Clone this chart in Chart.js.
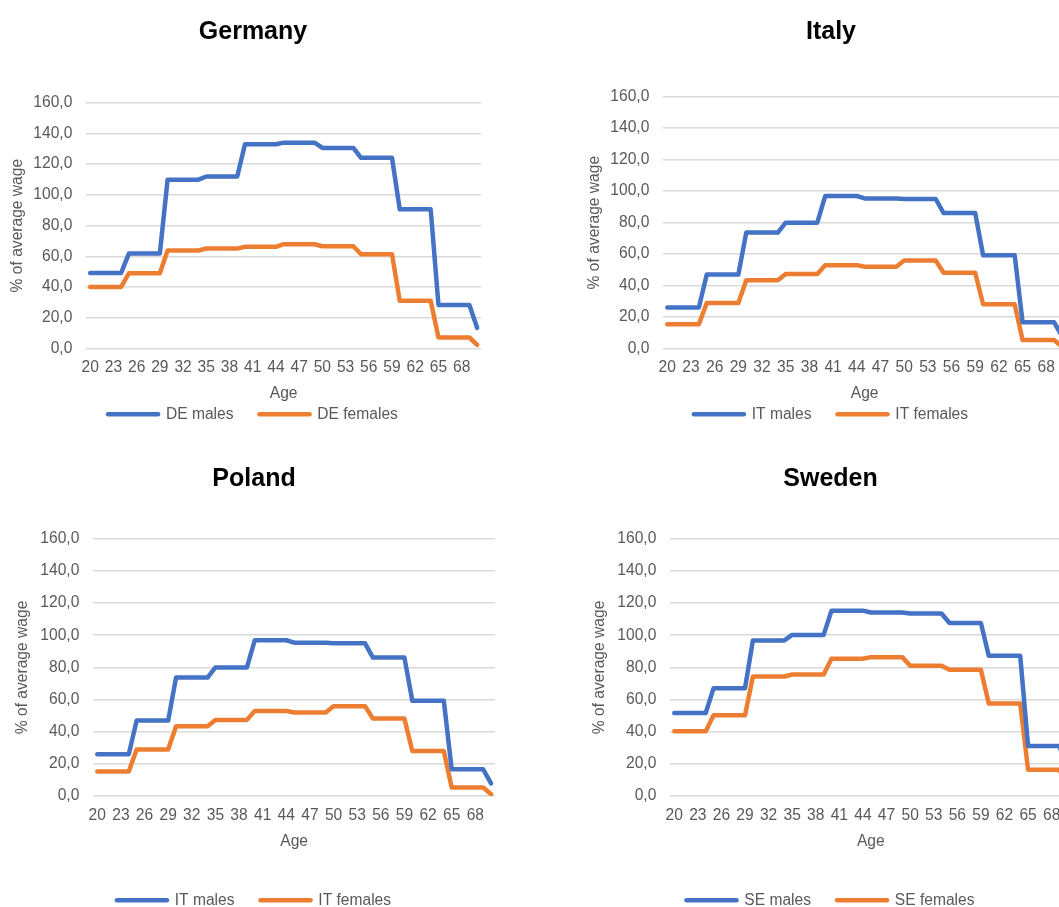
<!DOCTYPE html>
<html>
<head>
<meta charset="utf-8">
<script src="https://cdn.jsdelivr.net/npm/chart.js@4"></script>
<style>
html, body { margin: 0; padding: 0; background: #fff; overflow: hidden; }
#wrap { position: relative; width: 1059px; height: 907px; overflow: hidden; }
canvas { position: absolute; }
</style>
</head>
<body>
<div id="wrap">
  <canvas id="chartDE" width="506" height="432" style="left:0px;top:0px"></canvas>
  <canvas id="chartIT" width="508" height="432" style="left:577px;top:0px"></canvas>
  <canvas id="chartPL" width="498" height="468" style="left:5px;top:450px"></canvas>
  <canvas id="chartSE" width="497" height="468" style="left:582px;top:450px"></canvas>
</div>
<script>
var ages = [20,21,22,23,24,25,26,27,28,29,30,31,32,33,34,35,36,37,38,39,40,41,42,43,44,45,46,47,48,49,50,51,52,53,54,55,56,57,58,59,60,61,62,63,64,65,66,67,68,69,70];

var deMales   = [49.2,49.2,49.2,49.2,49.2,61.8,61.8,61.8,61.8,61.8,109.9,109.9,109.9,109.9,109.9,112.0,112.0,112.0,112.0,112.0,133.0,133.0,133.0,133.0,133.0,134.0,134.0,134.0,134.0,134.0,130.6,130.6,130.6,130.6,130.6,124.1,124.1,124.1,124.1,124.1,90.6,90.6,90.6,90.6,90.6,28.4,28.4,28.4,28.4,28.4,13.5];
var deFemales = [40.1,40.1,40.1,40.1,40.1,49.0,49.0,49.0,49.0,49.0,63.8,63.8,63.8,63.8,63.8,65.1,65.1,65.1,65.1,65.1,66.2,66.2,66.2,66.2,66.2,67.9,67.9,67.9,67.9,67.9,66.6,66.6,66.6,66.6,66.6,61.4,61.4,61.4,61.4,61.4,31.1,31.1,31.1,31.1,31.1,7.2,7.2,7.2,7.2,7.2,2.4];

var itMales   = [26.1,26.1,26.1,26.1,26.1,47.0,47.0,47.0,47.0,47.0,73.7,73.7,73.7,73.7,73.7,80.0,80.0,80.0,80.0,80.0,96.9,96.9,96.9,96.9,96.9,95.4,95.4,95.4,95.4,95.4,95.0,95.0,95.0,95.0,95.0,86.1,86.1,86.1,86.1,86.1,59.3,59.3,59.3,59.3,59.3,16.7,16.7,16.7,16.7,16.7,7.9];
var itFemales = [15.4,15.4,15.4,15.4,15.4,29.0,29.0,29.0,29.0,29.0,43.4,43.4,43.4,43.4,43.4,47.4,47.4,47.4,47.4,47.4,53.0,53.0,53.0,53.0,53.0,52.0,52.0,52.0,52.0,52.0,55.9,55.9,55.9,55.9,55.9,48.2,48.2,48.2,48.2,48.2,28.1,28.1,28.1,28.1,28.1,5.4,5.4,5.4,5.4,5.4,1.2];

// the Poland panel shows the same series (labelled IT) as Italy
var plMales   = [26.1,26.1,26.1,26.1,26.1,47.0,47.0,47.0,47.0,47.0,73.7,73.7,73.7,73.7,73.7,80.0,80.0,80.0,80.0,80.0,96.9,96.9,96.9,96.9,96.9,95.4,95.4,95.4,95.4,95.4,95.0,95.0,95.0,95.0,95.0,86.1,86.1,86.1,86.1,86.1,59.3,59.3,59.3,59.3,59.3,16.7,16.7,16.7,16.7,16.7,7.9];
var plFemales = [15.4,15.4,15.4,15.4,15.4,29.0,29.0,29.0,29.0,29.0,43.4,43.4,43.4,43.4,43.4,47.4,47.4,47.4,47.4,47.4,53.0,53.0,53.0,53.0,53.0,52.0,52.0,52.0,52.0,52.0,55.9,55.9,55.9,55.9,55.9,48.2,48.2,48.2,48.2,48.2,28.1,28.1,28.1,28.1,28.1,5.4,5.4,5.4,5.4,5.4,1.2];

var seMales   = [51.7,51.7,51.7,51.7,51.7,67.1,67.1,67.1,67.1,67.1,96.8,96.8,96.8,96.8,96.8,100.2,100.2,100.2,100.2,100.2,115.3,115.3,115.3,115.3,115.3,114.1,114.1,114.1,114.1,114.1,113.5,113.5,113.5,113.5,113.5,107.6,107.6,107.6,107.6,107.6,87.3,87.3,87.3,87.3,87.3,31.2,31.2,31.2,31.2,31.2,15.0];
var seFemales = [40.3,40.3,40.3,40.3,40.3,50.3,50.3,50.3,50.3,50.3,74.4,74.4,74.4,74.4,74.4,75.6,75.6,75.6,75.6,75.6,85.4,85.4,85.4,85.4,85.4,86.4,86.4,86.4,86.4,86.4,81.0,81.0,81.0,81.0,81.0,78.5,78.5,78.5,78.5,78.5,57.6,57.6,57.6,57.6,57.6,16.4,16.4,16.4,16.4,16.4,4.0];

var blue = "#4472C4";
var orange = "#ED7D31";
var grey = "#595959";
var fam = "'Liberation Sans', Arial, sans-serif";

function makeChart(id, title, males, females, names, lay) {
  return new Chart(id, {
    type: "line",
    data: {
      labels: ages,
      datasets: [
        { label: names[0], data: males, borderColor: blue, backgroundColor: blue },
        { label: names[1], data: females, borderColor: orange, backgroundColor: orange }
      ]
    },
    options: {
      responsive: false,
      animation: false,
      devicePixelRatio: 1,
      layout: { padding: 0 },
      elements: {
        line: { borderWidth: 4.5, tension: 0, borderJoinStyle: "round", borderCapStyle: "round", fill: false },
        point: { radius: 0, hoverRadius: 0 }
      },
      plugins: {
        tooltip: { enabled: false },
        title: {
          display: true,
          text: title,
          color: "#000",
          font: { family: fam, size: 25, weight: "bold" },
          padding: lay.titlePad
        },
        legend: {
          position: "bottom",
          labels: {
            usePointStyle: true,
            pointStyle: "line",
            pointStyleWidth: 50,
            padding: 26,
            color: grey,
            font: { family: fam, size: 15.6 },
            generateLabels: function (chart) {
              var items = Chart.defaults.plugins.legend.labels.generateLabels(chart);
              items.forEach(function (it) { it.lineWidth = 4.5; it.lineCap = "round"; });
              return items;
            }
          }
        }
      },
      scales: {
        x: {
          type: "category",
          offset: true,
          grid: { display: false },
          border: { display: false },
          ticks: {
            autoSkip: false,
            maxRotation: 0,
            padding: 2,
            color: grey,
            font: { family: fam, size: 15.6 },
            callback: function (v, i) { return i % 3 === 0 ? this.getLabelForValue(v) : ""; }
          },
          title: { display: true, text: "Age", color: grey, font: { family: fam, size: 15.6 }, padding: lay.xTitlePad }
        },
        y: {
          min: 0,
          max: 160,
          grid: { color: "#D9D9D9", lineWidth: 1.5, drawTicks: false },
          border: { display: false },
          ticks: {
            stepSize: 20,
            padding: 14,
            color: grey,
            font: { family: fam, size: 15.6 },
            callback: function (v) { return v.toFixed(1).replace(".", ","); }
          },
          title: { display: true, text: "% of average wage", color: grey, font: { family: fam, size: 15.6 }, padding: lay.yTitlePad }
        },
        yR: {
          position: "right",
          grid: { display: false },
          border: { display: false },
          ticks: { display: false },
          afterFit: function (s) { s.width = lay.rightGap; }
        }
      }
    }
  });
}

makeChart("chartDE", "Germany", deMales, deFemales, ["DE males", "DE females"], {
  titlePad: { top: 16.7, bottom: 56 }, xTitlePad: { top: 5.2, bottom: -22.8 }, yTitlePad: { top: 8.6, bottom: -8 }, rightGap: 25
});
makeChart("chartIT", "Italy", itMales, itFemales, ["IT males", "IT females"], {
  titlePad: { top: 16.7, bottom: 50 }, xTitlePad: { top: 5.2, bottom: -22.8 }, yTitlePad: { top: 8.6, bottom: -8 }, rightGap: 19
});
makeChart("chartPL", "Poland", plMales, plFemales, ["IT males", "IT females"], {
  titlePad: { top: 14, bottom: 44.7 }, xTitlePad: { top: 5.3, bottom: 15.5 }, yTitlePad: { top: 8.6, bottom: -6 }, rightGap: 8
});
makeChart("chartSE", "Sweden", seMales, seFemales, ["SE males", "SE females"], {
  titlePad: { top: 14, bottom: 44.7 }, xTitlePad: { top: 5.3, bottom: 15.5 }, yTitlePad: { top: 8.6, bottom: -6 }, rightGap: 7.7
});
</script>
</body>
</html>
